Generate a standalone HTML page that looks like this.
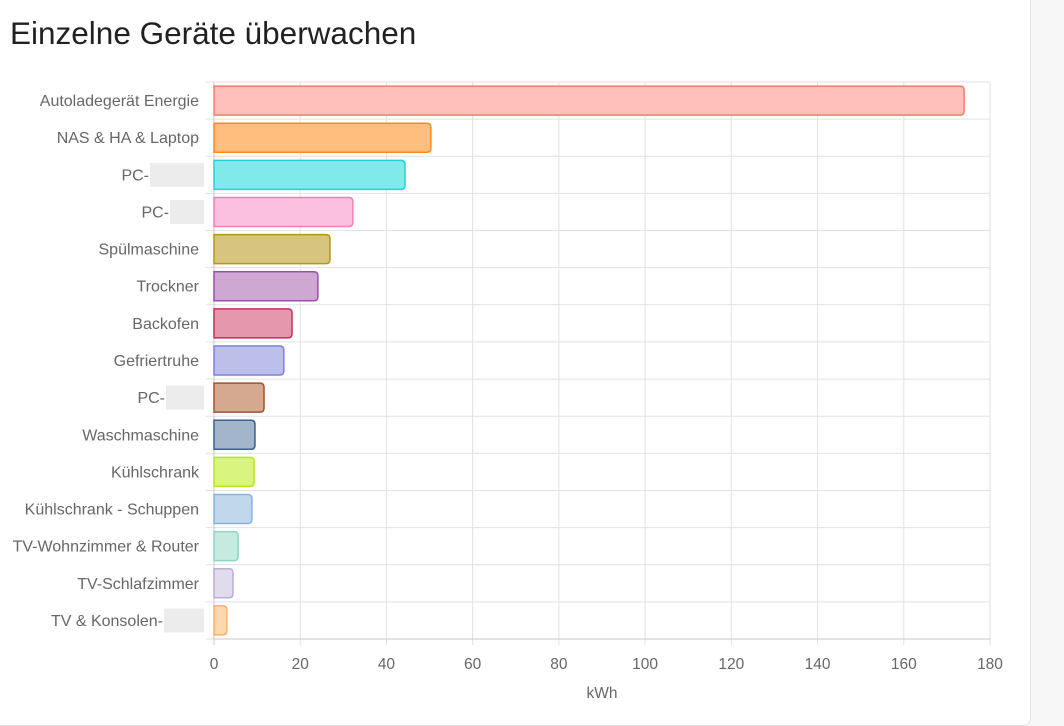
<!DOCTYPE html>
<html><head><meta charset="utf-8"><style>
html,body{margin:0;padding:0;background:#f7f7f7;}
#card{position:absolute;left:0;top:0;width:1030px;height:725px;background:#fff;border-right:1px solid #e4e4e4;border-bottom:1px solid #e4e4e4;border-bottom-right-radius:8px;}
h1{position:absolute;left:10px;top:15px;margin:0;font:400 31.5px "Liberation Sans",sans-serif;color:#212121;}
svg{position:absolute;left:0;top:0;}
text{font-family:"Liberation Sans",sans-serif;fill:#666;}
</style></head><body>
<div id="card">
<h1>Einzelne Geräte überwachen</h1>
</div>
<svg id="chart" width="1064" height="726"></svg>
<script>
const categories=["Autoladegerät Energie","NAS & HA & Laptop","PC-","PC-","Spülmaschine","Trockner","Backofen","Gefriertruhe","PC-","Waschmaschine","Kühlschrank","Kühlschrank - Schuppen","TV-Wohnzimmer & Router","TV-Schlafzimmer","TV & Konsolen-"];
const values=[174,50.3,44.3,32.2,26.9,24.1,18.1,16.2,11.6,9.5,9.3,8.8,5.6,4.4,3.0];
const ticks=[0,20,40,60,80,100,120,140,160,180];
const borders=["#f87c6e","#ff8a1c","#1ed3d6","#f27eb7","#b09a14","#9b4fa8","#c0325f","#7f7fd8","#a0532c","#3b5f8a","#b4e51e","#8cb4d9","#8fd6c4","#b8aed6","#f6b26b"];
const fills=["#ffbfba","#ffbd7e","#80eaea","#fbbfe0","#d6c47f","#cea7d3","#e497ad","#bcbfe9","#d4a990","#a3b5ca","#d9f47f","#c1d7eb","#c5ebe1","#e0dced","#fbd8b0"];
const redactW=[0,0,50,30,0,0,0,0,34,0,0,0,0,0,36];
const svg=document.getElementById('chart');
const NS='http://www.w3.org/2000/svg';
const X0=214,X1=990,Y0=82,Y1=639,xmax=180;
const x=v=>X0+(X1-X0)*v/xmax;
const band=(Y1-Y0)/categories.length;
const yc=i=>Y0+band*(i+0.5);
function mk(t,a){const e=document.createElementNS(NS,t);for(const k in a)e.setAttribute(k,a[k]);svg.appendChild(e);return e;}
for(let i=0;i<=categories.length;i++){
 const l=mk('line',{x1:X0-8,x2:X1,y1:Y0+band*i,y2:Y0+band*i,stroke:'#e2e2e2','stroke-width':1});
 
 
}
ticks.forEach(t=>{
 const l=mk('line',{x1:x(t),x2:x(t),y1:Y0,y2:Y1+6,stroke:t===0?'#c8c8c8':'#e2e2e2','stroke-width':1});
 
 
 const tx=mk('text',{x:x(t),y:669,'text-anchor':'middle','font-size':15.5});
 tx.textContent=t;
 
 
});
mk('line',{x1:X0,x2:X1,y1:Y1,y2:Y1,stroke:'#c8c8c8'});
const xt=mk('text',{x:602,y:698,'text-anchor':'middle','font-size':15.5});
xt.textContent='kWh';


categories.forEach((c,i)=>{
 const w=redactW[i];
 const lx=199-w;
 const tl=mk('text',{x:lx,y:yc(i)+5.5,'text-anchor':'end','font-size':16});
 tl.textContent=c;
 
 
 if(w){const r=mk('rect',{x:lx+1,y:yc(i)-12,width:w+4,height:24,fill:'#ececec'});
  
  }
 const h=29;
 const b=mk('path',{d:`M${X0} ${yc(i)-h/2} H${x(values[i])-4} Q${x(values[i])} ${yc(i)-h/2} ${x(values[i])} ${yc(i)-h/2+4} V${yc(i)+h/2-4} Q${x(values[i])} ${yc(i)+h/2} ${x(values[i])-4} ${yc(i)+h/2} H${X0} Z`,fill:fills[i],stroke:borders[i],'stroke-width':1.5});
 
 
});
</script>
</body></html>
